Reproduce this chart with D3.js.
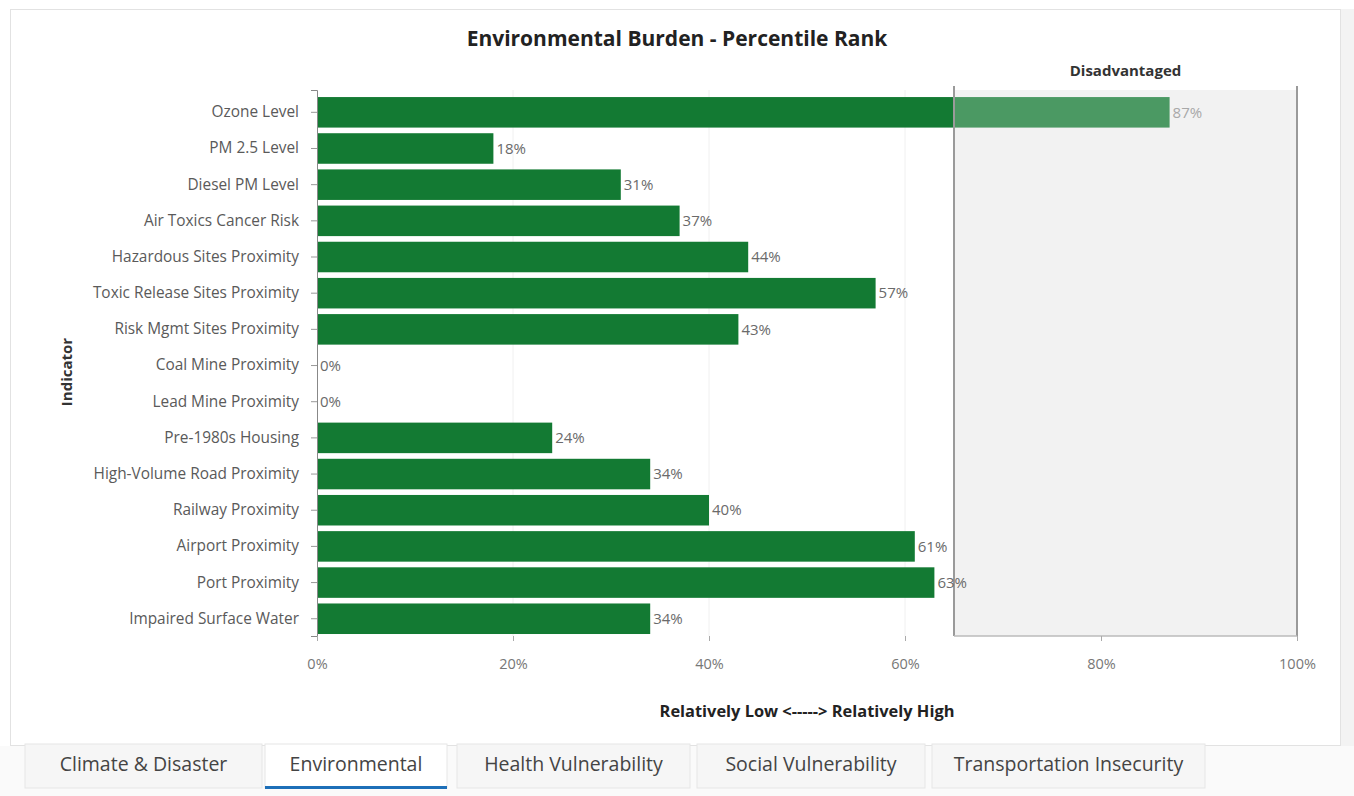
<!DOCTYPE html>
<html>
<head>
<meta charset="utf-8">
<script src="https://cdn.jsdelivr.net/npm/d3@7"></script>
<style>
  body { margin: 0; background: #fff; font-family: "Open Sans", Lato, sans-serif; }
</style>
</head>
<body>
<div id="chart"></div>
<script>
// data
var indicators = ["Ozone Level", "PM 2.5 Level", "Diesel PM Level", "Air Toxics Cancer Risk",
  "Hazardous Sites Proximity", "Toxic Release Sites Proximity", "Risk Mgmt Sites Proximity",
  "Coal Mine Proximity", "Lead Mine Proximity", "Pre-1980s Housing", "High-Volume Road Proximity",
  "Railway Proximity", "Airport Proximity", "Port Proximity", "Impaired Surface Water"];
var percentiles = [87, 18, 31, 37, 44, 57, 43, 0, 0, 24, 34, 40, 61, 63, 34];
var xTicks = [0, 20, 40, 60, 80, 100];
var disadvantagedFrom = 65;
var tabs = ["Climate & Disaster", "Environmental", "Health Vulnerability", "Social Vulnerability", "Transportation Insecurity"];
var activeTab = "Environmental";

var W = 1354, H = 796;
var margin = { top: 90, right: 57, bottom: 160, left: 317 },
  width = W - margin.left - margin.right,
  height = H - margin.top - margin.bottom;

var svg = d3.select("#chart").append("svg")
  .attr("width", W).attr("height", H);

// card frame
svg.append("rect")
  .attr("x", 10.5).attr("y", 9.5).attr("width", 1330).attr("height", 736)
  .style("fill", "#fff").style("stroke", "#e2e2e2");
svg.append("rect")
  .attr("x", 1341).attr("y", 9).attr("width", 13).attr("height", 740)
  .style("fill", "#f3f3f3");

var g = svg.append("g")
  .attr("transform", "translate(" + margin.left + "," + margin.top + ")");

var x = d3.scaleLinear().domain([0, 100]).range([0, width]);
var y = d3.scaleBand().domain(indicators).range([0, height])
  .paddingInner(0.156).paddingOuter(0.125).align(0.78);

// gridlines
g.selectAll(".grid").data(xTicks.slice(1, -1)).enter()
  .append("line")
  .attr("x1", d => x(d)).attr("x2", d => x(d))
  .attr("y1", 0).attr("y2", height)
  .style("stroke", "#f0f0f0");

// disadvantaged band (under the bars)
g.append("rect")
  .attr("x", x(disadvantagedFrom)).attr("y", 0)
  .attr("width", x(100) - x(disadvantagedFrom)).attr("height", height)
  .style("fill", "#eeeeee");

// bars
g.selectAll(".bar").data(percentiles).enter()
  .append("rect")
  .attr("x", x(0))
  .attr("y", (d, i) => y(indicators[i]))
  .attr("width", d => x(d) - x(0))
  .attr("height", y.bandwidth())
  .style("fill", "#137a33");

// band wash over the bars
g.append("rect")
  .attr("x", x(disadvantagedFrom)).attr("y", 0)
  .attr("width", x(100) - x(disadvantagedFrom)).attr("height", height)
  .style("fill", "#ffffff").style("fill-opacity", 0.24);

// band borders
g.append("line")
  .attr("x1", x(disadvantagedFrom)).attr("x2", x(disadvantagedFrom))
  .attr("y1", -4).attr("y2", height)
  .style("stroke", "#9a9a9a").style("stroke-width", 2);
g.append("line")
  .attr("x1", x(100)).attr("x2", x(100))
  .attr("y1", -4).attr("y2", height)
  .style("stroke", "#9a9a9a").style("stroke-width", 2);
g.append("line")
  .attr("x1", x(disadvantagedFrom)).attr("x2", x(100))
  .attr("y1", height).attr("y2", height)
  .style("stroke", "#bbbbbb").style("stroke-width", 1.5);

g.append("text")
  .attr("x", (x(disadvantagedFrom) + x(100)) / 2).attr("y", -14)
  .attr("text-anchor", "middle")
  .attr("font-size", 15).attr("font-weight", "bold").attr("fill", "#333")
  .text("Disadvantaged");

// value labels
g.selectAll(".val").data(percentiles).enter()
  .append("text")
  .attr("x", d => x(d) + 3)
  .attr("y", (d, i) => y(indicators[i]) + y.bandwidth() / 2)
  .attr("dy", "0.35em")
  .attr("font-size", 15)
  .attr("fill", d => d >= disadvantagedFrom ? "#a8a8a8" : "#6a6a6a")
  .text(d => d + "%");

// y axis
var yAxis = g.append("g").call(d3.axisLeft(y).tickSize(6).tickPadding(12));
yAxis.select(".domain").style("stroke", "#888");
yAxis.selectAll(".tick line").style("stroke", "#999");
yAxis.selectAll("text").attr("font-size", 15.4).attr("fill", "#5a5a5a")
  .style("font-family", "'Open Sans', sans-serif");

// x axis
var xAxis = g.append("g")
  .attr("transform", "translate(0," + height + ")")
  .call(d3.axisBottom(x).tickValues(xTicks).tickFormat(d => d + "%").tickSize(5).tickPadding(18));
xAxis.select(".domain").remove();
xAxis.selectAll(".tick line").style("stroke", "#aaa");
xAxis.selectAll("text").attr("font-size", 14.5).attr("fill", "#777")
  .style("font-family", "'Open Sans', sans-serif");

// titles
svg.append("text")
  .attr("x", 677).attr("y", 46)
  .attr("text-anchor", "middle")
  .attr("font-size", 21).attr("font-weight", "bold").attr("fill", "#222")
  .text("Environmental Burden - Percentile Rank");

svg.append("text")
  .attr("x", 807).attr("y", 717)
  .attr("text-anchor", "middle")
  .attr("font-size", 16.4).attr("font-weight", "bold").attr("fill", "#222")
  .text("Relatively Low <-----> Relatively High");

svg.append("text")
  .attr("transform", "translate(72,372) rotate(-90)")
  .attr("text-anchor", "middle")
  .attr("font-size", 15).attr("font-weight", "bold").attr("fill", "#333")
  .text("Indicator");

// tab strip
var tabBoxes = [[25, 262], [265, 447], [457, 690], [697, 925], [932, 1205]];
svg.append("rect")
  .attr("x", 0).attr("y", 746).attr("width", W).attr("height", 50)
  .style("fill", "#fafafa");
var tab = svg.selectAll(".tab").data(tabs).enter().append("g");
tab.append("rect")
  .attr("x", (d, i) => tabBoxes[i][0]).attr("y", 744)
  .attr("width", (d, i) => tabBoxes[i][1] - tabBoxes[i][0]).attr("height", 44)
  .style("fill", d => d === activeTab ? "#fff" : "#f6f6f6")
  .style("stroke", "#e6e6e6");
tab.append("text")
  .attr("x", (d, i) => (tabBoxes[i][0] + tabBoxes[i][1]) / 2)
  .attr("y", 771)
  .attr("text-anchor", "middle")
  .attr("font-size", 19.5).attr("fill", "#444")
  .text(d => d);
var ai = tabs.indexOf(activeTab);
svg.append("rect")
  .attr("x", tabBoxes[ai][0]).attr("y", 786)
  .attr("width", tabBoxes[ai][1] - tabBoxes[ai][0]).attr("height", 3)
  .style("fill", "#1d6fb8");
</script>
</body>
</html>
